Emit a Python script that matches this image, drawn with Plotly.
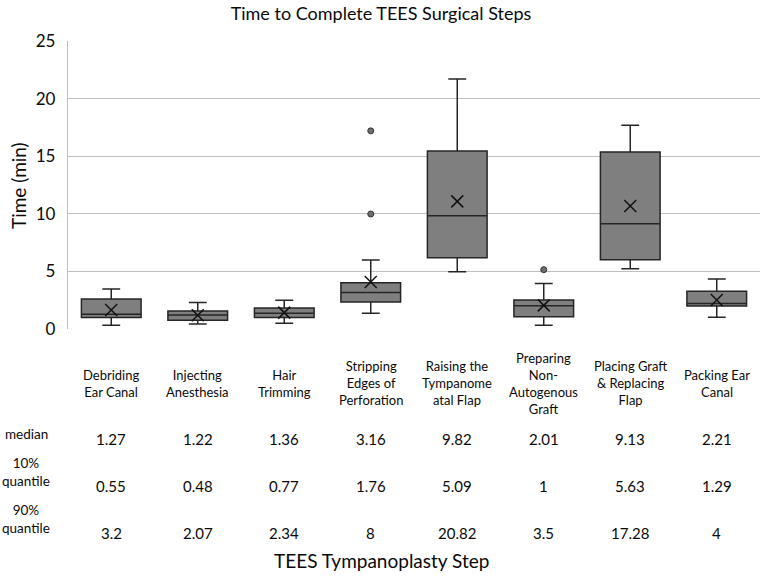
import plotly.graph_objects as go

categories = ["Debriding Ear Canal", "Injecting Anesthesia", "Hair Trimming",
              "Stripping Edges of Perforation", "Raising the Tympanomeatal Flap",
              "Preparing Non-Autogenous Graft", "Placing Graft & Replacing Flap",
              "Packing Ear Canal"]
category_labels = ["Debriding<br>Ear Canal", "Injecting<br>Anesthesia", "Hair<br>Trimming",
                   "Stripping<br>Edges of<br>Perforation", "Raising the<br>Tympanome<br>atal Flap",
                   "Preparing<br>Non-<br>Autogenous<br>Graft", "Placing Graft<br>& Replacing<br>Flap",
                   "Packing Ear<br>Canal"]

q1 = [1.0, 0.75, 1.0, 2.34, 6.19, 1.07, 6.02, 2.0]
median = [1.27, 1.22, 1.36, 3.16, 9.82, 2.01, 9.13, 2.21]
q3 = [2.6, 1.56, 1.82, 4.02, 15.45, 2.52, 15.36, 3.27]
lower_whisker = [0.32, 0.43, 0.49, 1.36, 4.97, 0.32, 5.24, 1.02]
upper_whisker = [3.47, 2.3, 2.49, 6.0, 21.7, 3.96, 17.68, 4.34]
mean = [1.65, 1.2, 1.42, 4.08, 11.08, 2.05, 10.68, 2.52]

outlier_cats = ["Stripping Edges of Perforation", "Stripping Edges of Perforation",
                "Preparing Non-Autogenous Graft"]
outlier_vals = [17.2, 9.98, 5.15]

table_rows = ["median", "10%<br>quantile", "90%<br>quantile"]
table_median = ["1.27", "1.22", "1.36", "3.16", "9.82", "2.01", "9.13", "2.21"]
table_q10 = ["0.55", "0.48", "0.77", "1.76", "5.09", "1", "5.63", "1.29"]
table_q90 = ["3.2", "2.07", "2.34", "8", "20.82", "3.5", "17.28", "4"]

FONT = "Lato"
TXT = "#0a0a0a"
W, H = 762, 579
ML, MR, MT, MB = 68, 2, 41, 250
PH = H - MT - MB


def py2paper(py):
    return (H - MB - py) / PH


def px2paper(px):
    return (px - ML) / (W - ML - MR)


fig = go.Figure()
fig.add_trace(go.Box(
    x=categories, q1=q1, median=median, q3=q3,
    lowerfence=lower_whisker, upperfence=upper_whisker,
    boxpoints=False, width=0.69, whiskerwidth=0.3,
    fillcolor="#7f7f7f", line=dict(color="#262626", width=1.5),
    showlegend=False, hoverinfo="skip"))
fig.add_trace(go.Scatter(
    x=categories, y=mean, mode="markers",
    marker=dict(symbol="x-thin", size=12, line=dict(color="#111111", width=1.5)),
    showlegend=False, hoverinfo="skip"))
fig.add_trace(go.Scatter(
    x=outlier_cats, y=outlier_vals, mode="markers",
    marker=dict(symbol="circle", size=6, color="#6e6e6e", line=dict(color="#333333", width=1)),
    showlegend=False, hoverinfo="skip"))

annotations = []
for i, lab in enumerate(category_labels):
    annotations.append(dict(x=categories[i], xref="x", y=py2paper(383), yref="paper",
                            text=lab, showarrow=False, xanchor="center", yanchor="middle",
                            font=dict(family=FONT, size=13, color=TXT)))

row_y = [439, 486, 533]
row_label_y = [434, 472, 519]
for r, (lab, vals) in enumerate(zip(table_rows, [table_median, table_q10, table_q90])):
    annotations.append(dict(x=px2paper(26), xref="paper", y=py2paper(row_label_y[r]),
                            yref="paper", text=lab, showarrow=False, xanchor="center",
                            yanchor="middle", font=dict(family=FONT, size=13.5, color=TXT)))
    for i, v in enumerate(vals):
        annotations.append(dict(x=categories[i], xref="x", y=py2paper(row_y[r]), yref="paper",
                                text=v, showarrow=False, xanchor="center", yanchor="middle",
                                font=dict(family=FONT, size=15, color=TXT)))

annotations.append(dict(x=px2paper(381), xref="paper", y=py2paper(560), yref="paper",
                        text="TEES Tympanoplasty Step", showarrow=False, xanchor="center",
                        yanchor="middle", font=dict(family=FONT, size=19, color=TXT)))
annotations.append(dict(x=px2paper(18), xref="paper", y=py2paper(185), yref="paper",
                        text="Time (min)", showarrow=False, xanchor="center", yanchor="middle",
                        textangle=-90, font=dict(family=FONT, size=19, color=TXT)))

fig.update_layout(
    width=W, height=H,
    margin=dict(l=ML, r=MR, t=MT, b=MB, autoexpand=False),
    paper_bgcolor="white", plot_bgcolor="white",
    title=dict(text="Time to Complete TEES Surgical Steps", x=0.5, xanchor="center",
               y=1 - 14 / H, yanchor="middle", yref="container",
               font=dict(family=FONT, size=18, color=TXT)),
    xaxis=dict(type="category", range=[-0.5, 7.5], showticklabels=False, showgrid=False,
               zeroline=False, showline=False, fixedrange=True),
    yaxis=dict(range=[0, 25], tickvals=[0, 5, 10, 15, 20, 25], showgrid=True,
               gridcolor="#bfbfbf", gridwidth=1.2, zeroline=False, showline=True,
               linecolor="#bfbfbf", linewidth=1.2, ticks="outside", ticklen=8,
               tickcolor="rgba(0,0,0,0)", tickfont=dict(family=FONT, size=17, color=TXT),
               fixedrange=True),
    annotations=annotations,
)

fig.write_html("out.html", config={"displayModeBar": False, "staticPlot": True})

with open("out.html", "r", encoding="utf-8") as f:
    html = f.read()
html = html.replace("<head>", "<head><style>html,body{margin:0;padding:0;overflow:hidden;}</style>", 1)
with open("out.html", "w", encoding="utf-8") as f:
    f.write(html)
